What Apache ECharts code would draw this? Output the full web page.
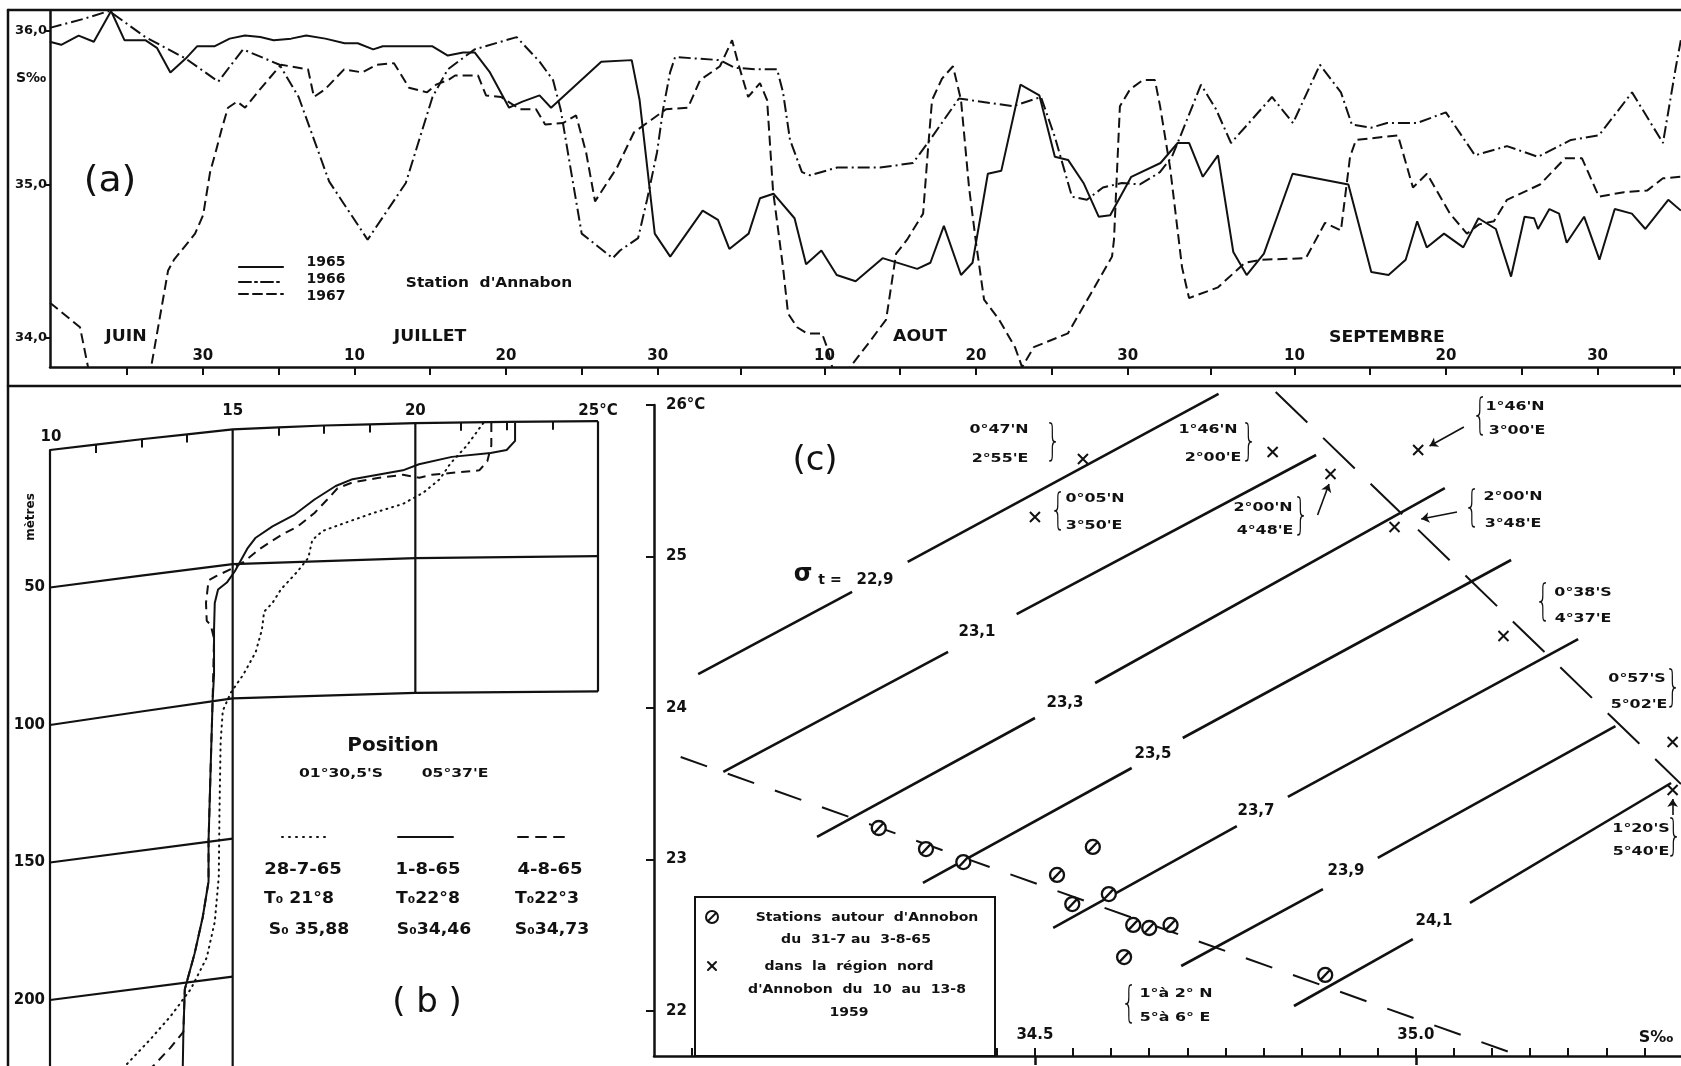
<!DOCTYPE html>
<html><head><meta charset="utf-8">
<script src="https://cdn.jsdelivr.net/npm/echarts@6/dist/echarts.min.js"></script>
<style>html,body{margin:0;padding:0;background:#fff}#c{width:1681px;height:1066px}</style>
</head><body><div id="c"></div><script>
// ================= Panel (a): surface salinity (S‰) at Annobon, day index (1 = 1 June) =================
const dayTicksA = [25,30,35,40,45,50,55,60,65.5,71,76,81,86,91,96.5,102,107,112,117,122,127];
const dayLabelPosA = [30,40,50,60,71,81,91,102,112,122];
const dayLabelsA = ['30','10','20','30','10','20','30','10','20','30'];
const salTicksA = [34,35,36];
const salLabelsA = ['34,0','35,0','36,0'];
const months = ['JUIN','JUILLET','AOUT','SEPTEMBRE'];

const sal1965 = [[19.91,35.93],[20.66,35.91],[21.81,35.97],[22.81,35.93],[23.95,36.13],[24.83,35.94],[26.21,35.94],[26.97,35.89],[27.86,35.73],[28.87,35.82],[29.62,35.90],[30.76,35.90],[31.77,35.95],[32.78,35.97],[33.79,35.96],[34.67,35.94],[35.82,35.95],[36.82,35.97],[38.08,35.95],[39.35,35.92],[40.22,35.92],[41.24,35.88],[41.87,35.90],[45.15,35.90],[46.16,35.84],[47.17,35.86],[47.93,35.86],[48.94,35.73],[50.20,35.50],[51.08,35.54],[52.21,35.58],[52.97,35.50],[56.28,35.80],[58.29,35.81],[58.81,35.55],[59.81,34.68],[60.83,34.53],[62.97,34.83],[63.98,34.77],[64.73,34.58],[66.00,34.68],[66.75,34.91],[67.64,34.94],[69.03,34.78],[69.79,34.48],[70.80,34.57],[71.81,34.41],[73.06,34.37],[74.84,34.52],[77.12,34.45],[77.99,34.49],[78.88,34.73],[80.01,34.41],[80.77,34.49],[81.78,35.07],[82.67,35.09],[83.93,35.65],[85.18,35.58],[86.20,35.18],[87.07,35.16],[88.09,35.01],[89.09,34.79],[89.85,34.80],[91.24,35.05],[93.17,35.14],[94.30,35.27],[95.06,35.27],[95.96,35.05],[96.96,35.19],[97.97,34.56],[98.85,34.41],[99.99,34.55],[101.88,35.07],[105.56,35.00],[107.07,34.43],[108.21,34.41],[109.34,34.51],[110.10,34.76],[110.73,34.59],[111.87,34.68],[113.14,34.59],[114.14,34.78],[115.29,34.71],[116.29,34.40],[117.18,34.79],[117.81,34.78],[118.07,34.71],[118.82,34.84],[119.46,34.81],[119.96,34.62],[121.11,34.79],[122.12,34.51],[123.13,34.84],[124.26,34.81],[125.15,34.71],[126.66,34.90],[127.49,34.83]];

const sal1966 = [[19.91,36.02],[22.18,36.08],[23.82,36.13],[26.21,35.96],[28.87,35.82],[31.02,35.67],[32.65,35.88],[35.06,35.78],[36.32,35.57],[38.33,35.02],[40.87,34.64],[43.39,35.01],[45.15,35.57],[46.16,35.75],[47.93,35.88],[50.70,35.96],[52.21,35.80],[53.10,35.68],[53.60,35.49],[54.23,35.12],[54.99,34.68],[57.04,34.52],[57.52,34.57],[58.71,34.65],[59.30,34.90],[59.96,35.21],[60.36,35.49],[60.82,35.73],[61.15,35.83],[64.11,35.81],[65.09,35.76],[66.61,35.75],[67.88,35.75],[68.27,35.60],[68.73,35.29],[69.52,35.08],[70.05,35.06],[71.83,35.11],[74.67,35.11],[76.84,35.14],[77.96,35.29],[79.87,35.56],[83.43,35.51],[85.28,35.57],[86.20,35.31],[87.33,34.92],[88.31,34.90],[89.37,34.98],[90.62,35.01],[91.81,35.00],[93.13,35.08],[93.92,35.18],[94.46,35.31],[95.84,35.65],[96.83,35.49],[97.82,35.27],[100.52,35.57],[101.91,35.40],[103.68,35.78],[105.07,35.60],[105.79,35.39],[107.06,35.37],[108.11,35.40],[110.08,35.40],[111.99,35.47],[113.91,35.19],[116.02,35.25],[118.07,35.18],[120.24,35.29],[122.09,35.32],[124.27,35.60],[126.31,35.27],[127.17,35.77],[127.49,35.94]];

const sal1967 = [[19.92,34.23],[21.90,34.07],[22.43,33.81],[23.16,33.4],[26.11,33.4],[26.59,33.81],[26.98,34.03],[27.71,34.44],[28.10,34.51],[29.49,34.68],[30.02,34.80],[30.48,35.08],[30.87,35.22],[31.27,35.37],[31.66,35.50],[32.26,35.54],[32.79,35.50],[33.77,35.62],[35.16,35.78],[36.94,35.75],[37.33,35.57],[38.06,35.62],[39.32,35.75],[40.50,35.73],[41.49,35.78],[42.61,35.79],[43.60,35.63],[44.79,35.60],[45.38,35.65],[46.18,35.68],[46.64,35.71],[48.15,35.71],[48.68,35.58],[49.67,35.57],[50.92,35.49],[51.98,35.49],[52.58,35.39],[53.76,35.40],[54.62,35.45],[55.28,35.21],[55.87,34.89],[57.32,35.11],[58.44,35.34],[59.57,35.42],[60.55,35.49],[62.00,35.50],[62.80,35.68],[64.11,35.77],[64.91,35.94],[65.31,35.79],[65.97,35.57],[66.75,35.66],[67.22,35.55],[67.61,34.96],[68.27,34.46],[68.60,34.16],[69.20,34.07],[69.85,34.03],[70.84,34.03],[71.17,33.94],[71.57,33.79],[72.45,33.4],[72.69,33.81],[73.94,33.97],[75.07,34.12],[75.73,34.55],[76.45,34.64],[77.51,34.81],[77.84,35.24],[78.10,35.55],[78.76,35.69],[79.48,35.77],[80.01,35.55],[80.54,34.98],[81.00,34.62],[81.53,34.25],[82.52,34.12],[83.57,33.94],[84.04,33.81],[84.81,33.94],[87.06,34.03],[88.58,34.29],[89.97,34.53],[90.10,34.64],[90.49,35.51],[91.16,35.62],[92.01,35.68],[92.80,35.68],[93.14,35.51],[93.80,35.11],[94.59,34.46],[95.05,34.26],[96.96,34.33],[98.74,34.49],[99.86,34.51],[102.76,34.52],[104.02,34.75],[105.07,34.70],[105.67,35.18],[106.06,35.29],[108.83,35.32],[109.82,34.98],[110.74,35.07],[112.26,34.81],[113.38,34.68],[114.18,34.74],[115.16,34.76],[116.02,34.90],[117.34,34.96],[118.20,35.00],[119.85,35.17],[120.97,35.17],[122.09,34.92],[123.74,34.95],[125.26,34.96],[126.31,35.04],[127.49,35.05]];

// ================= Panel (b): temperature (°C) vs depth (m) =================
const depthLabelsB = [50,100,150,200];
const tempLabelsB = [15,20,25];
const prof28_7_65 = [[21.86,-9.8],[21.41,-1.6],[20.96,4.9],[20.67,10.6],[20.22,15.5],[19.66,19.6],[18.85,22.9],[18.16,26.1],[17.47,29.4],[17.18,32.7],[17.07,39.2],[16.78,44.1],[16.32,50.7],[16.09,55.6],[15.86,58.8],[15.80,65.4],[15.63,73.5],[15.29,81.7],[14.95,88.2],[14.73,94.8],[14.67,106.2],[14.64,130.7],[14.62,155.2],[14.51,171.6],[14.29,184.6],[13.85,196.1],[13.30,205.9],[12.76,214.1],[12.10,223.4],[11.7,228]];
const prof1_8_65 = [[22.73,-9.8],[22.73,-3.3],[22.5,0],[22.06,1.1],[21.0,2.5],[20.1,5.2],[19.66,7.4],[18.97,9.0],[18.28,10.6],[17.82,13.1],[17.24,18.0],[16.67,23.7],[16.09,27.8],[15.63,31.9],[15.40,35.9],[15.23,40.0],[15.06,44.1],[14.84,48.2],[14.60,50.7],[14.51,55.6],[14.49,65.4],[14.49,81.7],[14.45,91.5],[14.40,114.4],[14.34,142.2],[14.34,156.9],[14.18,169.9],[13.96,183.0],[13.69,196.1],[13.65,212.4],[13.63,228]];
const prof4_8_65 = [[22.08,-9.8],[22.08,-1.6],[21.97,4.1],[21.75,7.4],[21.09,8.2],[20.45,9.0],[20.11,10.1],[19.66,9.0],[18.97,10.2],[18.28,11.8],[17.87,13.9],[17.59,18.0],[17.24,22.9],[16.78,27.8],[16.32,31.0],[15.75,35.9],[15.29,40.8],[14.95,43.3],[14.56,45.8],[14.34,47.4],[14.27,55.6],[14.29,62.1],[14.40,63.7],[14.49,68.6],[14.45,91.5],[14.40,114.4],[14.34,142.2],[14.34,156.9],[14.18,169.9],[13.96,183.0],[13.69,196.1],[13.65,211.6],[13.30,217.3],[12.87,223.4],[12.5,228]];
// skewed reference lines of the (b) diagram
const bLineTop = [[10,0],[11.25,-1.95],[12.5,-3.9],[13.75,-5.7],[15,-7.5],[16.25,-8.2],[17.5,-8.9],[18.75,-9.35],[20,-9.8],[22.5,-10.2],[25,-10.5]];
const bLine50 = [[10,50],[12.5,45.7],[15,41.5],[20,39.3],[25,38.6]];
const bLine100 = [[10,100],[12.5,95.1],[15,90.3],[20,88.3],[25,87.8]];
const bLine150 = [[10,150],[15,141.3]];
const bLine200 = [[10,200],[15,191.5]];
const bVert15 = [[15,-7.5],[15,230]];
const bVert20 = [[20,-9.8],[20,88.3]];
const bVert25 = [[25,-10.5],[25,87.8]];
const bTopTicks = [[11.25,-1.95],[12.5,-3.9],[13.75,-5.7],[16.25,-8.2],[17.5,-8.9],[18.75,-9.35],[21.25,-10.0],[22.5,-10.2],[23.75,-10.35]];

// ================= Panel (c): T–S diagram =================
const tempTicksC = [22,23,24,25,26];
const salTicksC = [34.05,34.1,34.15,34.2,34.25,34.3,34.35,34.4,34.45,34.5,34.55,34.6,34.65,34.7,34.75,34.8,34.85,34.9,34.95,35.0,35.05,35.1,35.15,35.2,35.25,35.3];
const salLabelsC = [34.5,35.0];
const sigmaLevels = ['22,9','23,1','23,3','23,5','23,7','23,9','24,1'];
const sigmaSegments = [
  [[[34.058,24.224],[34.260,24.766]], [[34.333,24.964],[34.741,26.073]]],
  [[[34.091,23.578],[34.386,24.370]], [[34.476,24.620],[34.869,25.670]]],
  [[[34.214,23.149],[34.500,23.934]], [[34.579,24.165],[35.038,25.452]]],
  [[[34.353,22.845],[34.627,23.604]], [[34.694,23.802],[35.125,24.977]]],
  [[[34.524,22.548],[34.765,23.221]], [[34.832,23.413],[35.213,24.455]]],
  [[[34.692,22.297],[34.878,22.805]], [[34.950,23.010],[35.262,23.881]]],
  [[[34.840,22.033],[34.996,22.475]], [[35.071,22.713],[35.335,23.505]]]
];
const guideUpper = [[34.816,26.086],[35.348,23.498]];
const guideLower = [[34.035,23.677],[35.126,21.723]];
const stationsAnnobon = [[34.295,23.208],[34.357,23.069],[34.406,22.983],[34.576,23.083],[34.529,22.898],[34.549,22.706],[34.597,22.772],[34.629,22.568],[34.650,22.548],[34.678,22.568],[34.617,22.356],[34.881,22.238]];
const stationsNorth1959 = [[34.563,25.644],[34.500,25.261],[34.812,25.690],[34.888,25.545],[35.003,25.703],[34.972,25.195],[35.115,24.475],[35.337,23.776],[35.337,23.459]];
const arrowsC = [
  [[34.871,25.274],[34.886,25.479]],
  [[35.063,25.855],[35.018,25.729]],
  [[35.054,25.294],[35.007,25.248]],
  [[35.337,23.294],[35.337,23.399]]
];

// ================= rendering =================
const INK = '#111';
const FONT = "'DejaVu Sans', sans-serif";
const chart = echarts.init(document.getElementById('c'), null, {renderer: 'canvas'});

function txt(x, y, s, size, sx, extra, elExtra) {
  const st = Object.assign({text: s, fill: INK, fontSize: size, fontFamily: FONT, fontWeight: 'bold',
    align: 'center', verticalAlign: 'middle', textAlign: 'center', textVerticalAlign: 'middle'}, extra || {});
  return Object.assign({type: 'text', x: x, y: y, scaleX: sx || 1, style: st, z: 100, silent: true}, elExtra || {});
}
function ln(x1, y1, x2, y2, w, dash) {
  return {type: 'line', shape: {x1: x1, y1: y1, x2: x2, y2: y2},
    style: {stroke: INK, lineWidth: w, lineDash: dash || null, lineCap: 'round'}, z: 100, silent: true};
}
function brace(x, y, ch) {
  return txt(x, y, ch, 42, 0.6, {fontWeight: 200});
}
function coord(x, y, s) { return txt(x, y, s, 13, 1.22); }

const annotations = [
  // frame
  ln(8, 10, 1681, 10, 2.5), ln(8, 10, 8, 1066, 2.5), ln(8, 386, 1681, 386, 2.5),
  // panel (a)
  txt(31, 78, 'S‰', 14),
  txt(110, 182, '(a)', 36, 1.05, {fontWeight: 'normal'}),
  ln(239, 267, 283, 267, 2.2), ln(239, 282, 283, 282, 2, [12, 4, 2, 4]), ln(239, 294, 283, 294, 2, [9, 5]),
  txt(326, 262, '1965', 14), txt(326, 279, '1966', 14), txt(326, 296, '1967', 14),
  txt(489, 283, "Station  d'Annabon", 14, 1.1),
  txt(126, 337, months[0], 15, 1.15),
  txt(430, 337, months[1], 15, 1.15),
  txt(920, 337, months[2], 15, 1.15),
  txt(1387, 338, months[3], 15, 1.15),
  // panel (b)
  txt(51, 437, '10', 15),
  txt(31, 517, 'mètres', 12, 1, null, {rotation: Math.PI / 2}),
  txt(393, 746, 'Position', 19, 1.05),
  txt(341, 774, "01°30,5'S", 13, 1.2), txt(455, 774, "05°37'E", 13, 1.2),
  ln(282, 837, 331, 837, 2, [1, 6]), ln(398, 837, 453, 837, 2), ln(518, 837, 571, 837, 2, [10, 8]),
  txt(303, 870, '28-7-65', 15, 1.2), txt(428, 870, '1-8-65', 15, 1.2), txt(550, 870, '4-8-65', 15, 1.2),
  txt(299, 899, 'T₀ 21°8', 15, 1.15), txt(428, 899, 'T₀22°8', 15, 1.15), txt(547, 899, 'T₀22°3', 15, 1.15),
  txt(309, 930, 'S₀ 35,88', 15, 1.15), txt(434, 930, 'S₀34,46', 15, 1.15), txt(552, 930, 'S₀34,73', 15, 1.15),
  txt(427, 1003, '( b )', 34, 1, {fontWeight: 'normal'}),
  // panel (c)
  txt(815, 461, '(c)', 34, 1, {fontWeight: 'normal'}),
  txt(803, 575, 'σ', 24), txt(830, 580, 't =', 14),
  txt(875, 580, sigmaLevels[0], 15),
  txt(977, 632, sigmaLevels[1], 15), txt(1065, 703, sigmaLevels[2], 15),
  txt(1153, 754, sigmaLevels[3], 15), txt(1256, 811, sigmaLevels[4], 15),
  txt(1346, 871, sigmaLevels[5], 15), txt(1434, 921, sigmaLevels[6], 15),
  txt(1656, 1038, 'S‰', 16),
  coord(999, 430, "0°47'N"), coord(1000, 459, "2°55'E"), brace(1053, 444, '}'),
  coord(1095, 499, "0°05'N"), coord(1094, 526, "3°50'E"), brace(1058, 513, '{'),
  coord(1208, 430, "1°46'N"), coord(1213, 458, "2°00'E"), brace(1249, 444, '}'),
  coord(1263, 508, "2°00'N"), coord(1265, 531, "4°48'E"), brace(1301, 518, '}'),
  coord(1515, 407, "1°46'N"), coord(1517, 431, "3°00'E"), brace(1480, 418, '{'),
  coord(1513, 497, "2°00'N"), coord(1513, 524, "3°48'E"), brace(1472, 510, '{'),
  coord(1583, 593, "0°38'S"), coord(1583, 619, "4°37'E"), brace(1543, 604, '{'),
  coord(1637, 679, "0°57'S"), coord(1639, 705, "5°02'E"), brace(1673, 690, '}'),
  coord(1641, 829, "1°20'S"), coord(1641, 852, "5°40'E"), brace(1674, 839, '}'),
  coord(1176, 994, '1°à 2° N'), coord(1175, 1018, '5°à 6° E'), brace(1129, 1006, '{'),
  // legend box (c)
  {type: 'rect', shape: {x: 695, y: 897, width: 300, height: 159}, style: {fill: '#fff', stroke: INK, lineWidth: 2}, z: 90, silent: true},
  {type: 'circle', shape: {cx: 712, cy: 917, r: 6}, style: {fill: '#fff', stroke: INK, lineWidth: 2}, z: 100, silent: true},
  ln(708, 921, 716, 913, 2),
  ln(708, 962, 716, 970, 2), ln(716, 962, 708, 970, 2),
  txt(867, 918, "Stations  autour  d'Annobon", 13, 1.08),
  txt(856, 940, 'du  31-7 au  3-8-65', 13, 1.08),
  txt(849, 967, 'dans  la  région  nord', 13, 1.08),
  txt(857, 990, "d'Annobon  du  10  au  13-8", 13, 1.08),
  txt(849, 1013, '1959', 13, 1.08)
];

const axisText = {color: INK, fontFamily: FONT, fontWeight: 'bold'};
const baseLine = {type: 'line', showSymbol: false, symbol: 'none', silent: true, animation: false};

const series = [
  Object.assign({}, baseLine, {xAxisIndex: 0, yAxisIndex: 0, data: sal1965, lineStyle: {color: INK, width: 2}}),
  Object.assign({}, baseLine, {xAxisIndex: 0, yAxisIndex: 0, data: sal1966, lineStyle: {color: INK, width: 2, type: [12, 4, 2, 4]}}),
  Object.assign({}, baseLine, {xAxisIndex: 0, yAxisIndex: 0, data: sal1967, lineStyle: {color: INK, width: 2, type: [10, 5]}})
];
[bLineTop, bLine50, bLine100, bLine150, bLine200, bVert15, bVert20, bVert25].forEach(function (d) {
  series.push(Object.assign({}, baseLine, {xAxisIndex: 1, yAxisIndex: 1, data: d, clip: false, lineStyle: {color: INK, width: 2.2}}));
});
series.push({type: 'lines', coordinateSystem: 'cartesian2d', xAxisIndex: 1, yAxisIndex: 1, silent: true, clip: false,
  data: bTopTicks.map(function (p) { return {coords: [[p[0], p[1]], [p[0], p[1] + 3]]}; }),
  lineStyle: {color: INK, width: 2, opacity: 1}});
series.push(Object.assign({}, baseLine, {xAxisIndex: 1, yAxisIndex: 1, data: prof28_7_65, clip: false, lineStyle: {color: INK, width: 2, type: [1, 5], cap: 'round'}}));
series.push(Object.assign({}, baseLine, {xAxisIndex: 1, yAxisIndex: 1, data: prof1_8_65, clip: false, lineStyle: {color: INK, width: 2}}));
series.push(Object.assign({}, baseLine, {xAxisIndex: 1, yAxisIndex: 1, data: prof4_8_65, clip: false, lineStyle: {color: INK, width: 2, type: [9, 6]}}));
const segs = [];
sigmaSegments.forEach(function (lvl) { lvl.forEach(function (s) { segs.push({coords: s}); }); });
series.push({type: 'lines', coordinateSystem: 'cartesian2d', xAxisIndex: 2, yAxisIndex: 2, silent: true, clip: false, z: 2,
  data: segs, lineStyle: {color: INK, width: 2.6, opacity: 1}});
series.push({type: 'lines', coordinateSystem: 'cartesian2d', xAxisIndex: 2, yAxisIndex: 2, silent: true, clip: false, z: 2,
  data: [{coords: guideUpper}], lineStyle: {color: INK, width: 2, type: [44, 22], opacity: 1}});
series.push({type: 'lines', coordinateSystem: 'cartesian2d', xAxisIndex: 2, yAxisIndex: 2, silent: true, clip: false, z: 2,
  data: [{coords: guideLower}], lineStyle: {color: INK, width: 2, type: [28, 22], opacity: 1}});
series.push({type: 'lines', coordinateSystem: 'cartesian2d', xAxisIndex: 2, yAxisIndex: 2, silent: true, clip: false, z: 3,
  symbol: ['none', 'arrow'], symbolSize: 8,
  data: arrowsC.map(function (a) { return {coords: a}; }), lineStyle: {color: INK, width: 1.6, opacity: 1}});
series.push({type: 'scatter', xAxisIndex: 2, yAxisIndex: 2, silent: true, z: 5, data: stationsAnnobon,
  symbol: 'path://M12,6A6,6,0,1,1,0,6A6,6,0,1,1,12,6ZM2.6,9.6L9.4,2.4', symbolSize: 14, symbolKeepAspect: true,
  itemStyle: {color: '#fff', borderColor: INK, borderWidth: 2.3, opacity: 1}});
series.push({type: 'scatter', xAxisIndex: 2, yAxisIndex: 2, silent: true, z: 5, data: stationsNorth1959,
  symbol: 'path://M0,0L10,10M10,0L0,10', symbolSize: 10, symbolKeepAspect: true,
  itemStyle: {color: 'rgba(0,0,0,0)', borderColor: INK, borderWidth: 2, opacity: 1}});

const option = {
  animation: false,
  backgroundColor: '#fff',
  textStyle: {fontFamily: FONT, color: INK},
  grid: [
    {left: 50, top: 11, right: 0, bottom: 699, containLabel: false, outerBoundsMode: 'none'},
    {left: 50, top: 450, width: 548, bottom: 0, containLabel: false, outerBoundsMode: 'none'},
    {left: 654, top: 405, right: 0, bottom: 10, containLabel: false, outerBoundsMode: 'none'}
  ],
  xAxis: [
    {gridIndex: 0, type: 'value', min: 19.92, max: 127.5, position: 'bottom',
      axisLine: {lineStyle: {color: INK, width: 2.5}},
      axisTick: {customValues: dayTicksA, length: 8, inside: false, lineStyle: {color: INK, width: 2}},
      axisLabel: Object.assign({customValues: dayLabelPosA, inside: true, margin: 3, fontSize: 15,
        formatter: function (v) { const i = dayLabelPosA.indexOf(v); return i >= 0 ? dayLabelsA[i] : ''; }}, axisText),
      splitLine: {show: false}},
    {gridIndex: 1, type: 'value', min: 10, max: 25, position: 'top',
      axisLine: {show: false}, axisTick: {show: false},
      axisLabel: Object.assign({customValues: tempLabelsB, margin: 31, fontSize: 15,
        formatter: function (v) { return v === 25 ? '25°C' : String(v); }}, axisText),
      splitLine: {show: false}},
    {gridIndex: 2, type: 'value', min: 34.0, max: 35.348, position: 'bottom',
      axisLine: {lineStyle: {color: INK, width: 2.5}},
      axisTick: {customValues: salTicksC, length: 8, inside: true, lineStyle: {color: INK, width: 2}},
      axisLabel: Object.assign({customValues: salLabelsC, inside: true, margin: 13, fontSize: 15,
        formatter: function (v) { return v.toFixed(1); }}, axisText),
      splitLine: {show: false}},
    {gridIndex: 2, type: 'value', min: 34.0, max: 35.348, position: 'bottom',
      axisLine: {show: false},
      axisTick: {customValues: salLabelsC, length: 9, inside: false, lineStyle: {color: INK, width: 2.5}},
      axisLabel: {show: false}, splitLine: {show: false}}
  ],
  yAxis: [
    {gridIndex: 0, type: 'value', min: 33.811, max: 36.13,
      axisLine: {show: true, lineStyle: {color: INK, width: 2.5}},
      axisTick: {show: true, customValues: salTicksA, length: 5, lineStyle: {color: INK, width: 2}},
      axisLabel: Object.assign({customValues: salTicksA, margin: 3, fontSize: 13,
        formatter: function (v) { const i = salTicksA.indexOf(v); return i >= 0 ? salLabelsA[i] : ''; }}, axisText),
      splitLine: {show: false}},
    {gridIndex: 1, type: 'value', min: 0, max: 224, inverse: true,
      axisLine: {show: true, lineStyle: {color: INK, width: 2.2}},
      axisTick: {show: false},
      axisLabel: Object.assign({customValues: depthLabelsB, margin: 5, fontSize: 15}, axisText),
      splitLine: {show: false}},
    {gridIndex: 2, type: 'value', min: 21.703, max: 26,
      axisLine: {show: true, lineStyle: {color: INK, width: 2.5}},
      axisTick: {show: true, customValues: tempTicksC, length: 8, inside: false, lineStyle: {color: INK, width: 2}},
      axisLabel: Object.assign({customValues: tempTicksC, inside: true, margin: 12, fontSize: 15,
        formatter: function (v) { return v === 26 ? '26°C' : String(v); }}, axisText),
      splitLine: {show: false}}
  ],
  series: series,
  graphic: {elements: annotations}
};
chart.setOption(option);
</script></body></html>
